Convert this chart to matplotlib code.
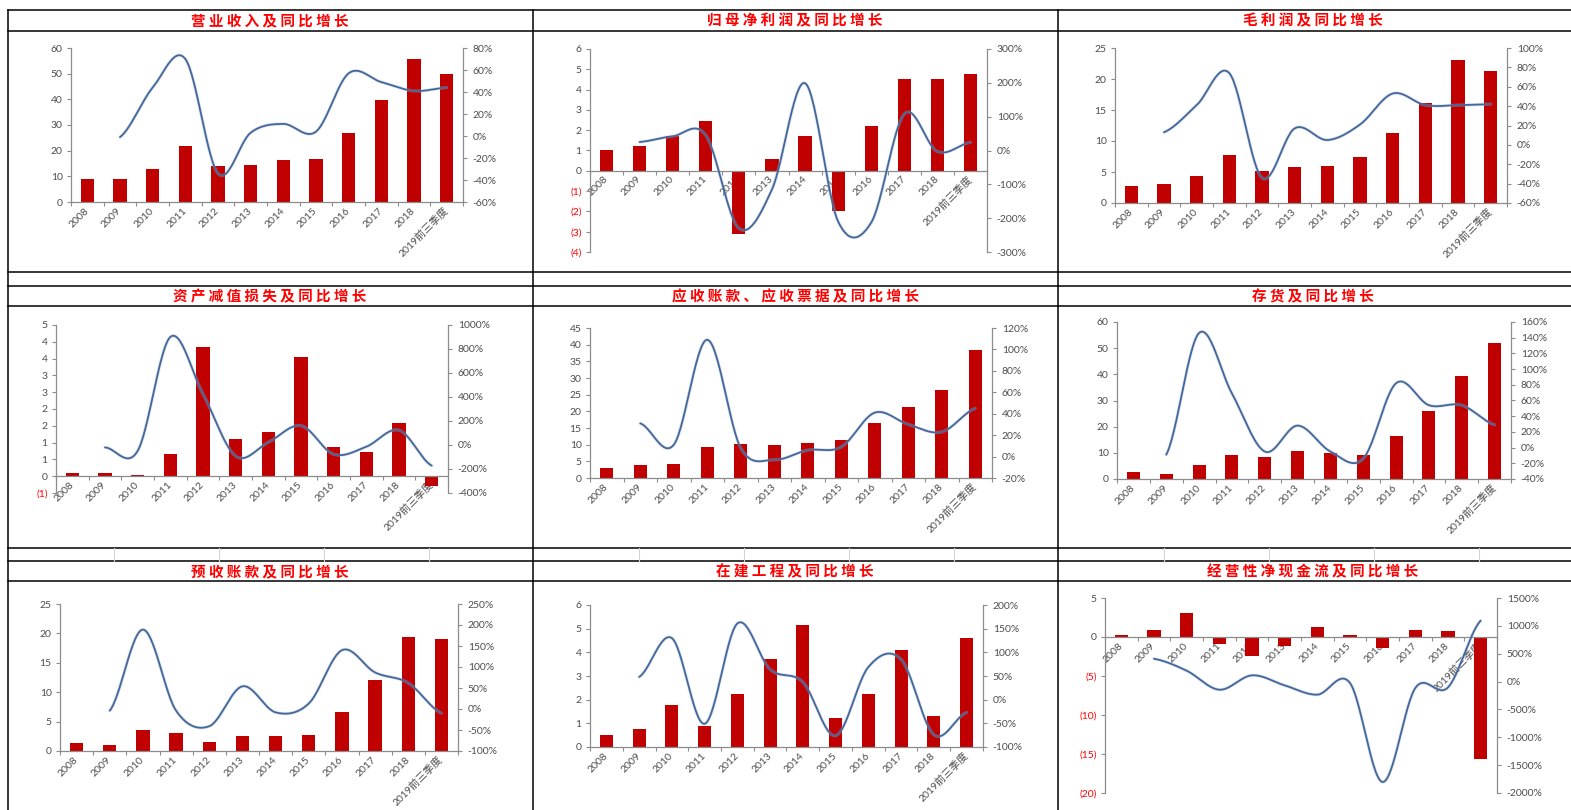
import numpy as np
import matplotlib
matplotlib.use('Agg')
import matplotlib.pyplot as plt
from matplotlib.lines import Line2D

plt.rcParams['font.family'] = ['Lato', 'Noto Sans CJK SC', 'DejaVu Sans']

# ---------------- data ----------------
categories = ['2008', '2009', '2010', '2011', '2012', '2013', '2014', '2015',
              '2016', '2017', '2018', '2019前三季度']

titles = ['营业收入及同比增长', '归母净利润及同比增长', '毛利润及同比增长',
          '资产减值损失及同比增长', '应收账款、应收票据及同比增长', '存货及同比增长',
          '预收账款及同比增长', '在建工程及同比增长', '经营性净现金流及同比增长']

revenue = [9.1, 9.1, 13.0, 21.8, 14.1, 14.6, 16.2, 16.7, 26.7, 39.9, 55.9, 49.9]
revenue_yoy = [-1, 44, 70, -34, 3, 11, 4, 57, 49, 41, 44]

net_profit = [1.0, 1.23, 1.73, 2.43, -3.09, 0.58, 1.73, -1.96, 2.21, 4.53, 4.53, 4.75]
net_profit_yoy = [25, 42, 45, -230, -115, 199, -210, -213, 108, -3, 24]

gross_profit = [2.8, 3.0, 4.4, 7.8, 5.1, 5.8, 6.0, 7.4, 11.3, 16.1, 23.0, 21.3]
gross_profit_yoy = [13, 41, 74, -34, 17, 5, 21, 53, 41, 41, 42]

impairment = [0.10, 0.10, 0.05, 0.67, 3.86, 1.11, 1.32, 3.55, 0.88, 0.72, 1.59, -0.29]
impairment_yoy = [-20, -49, 900, 425, -92, 23, 161, -77, -14, 123, -172]

receivables = [2.9, 3.8, 4.2, 9.3, 10.2, 9.8, 10.6, 11.5, 16.5, 21.2, 26.3, 38.5]
receivables_yoy = [31, 11, 109, 8, -3, 6, 9, 41, 30, 23, 45]

inventory = [2.6, 1.9, 5.2, 9.1, 8.3, 10.6, 10.1, 9.1, 16.6, 25.8, 39.3, 52.0]
inventory_yoy = [-9, 146, 69, -5, 28, -5, -14, 82, 54, 54, 29]

advances = [1.35, 1.06, 3.5, 3.06, 1.53, 2.6, 2.6, 2.8, 6.6, 12.1, 19.4, 19.1]
advances_yoy = [-4, 189, -4, -41, 54, -8, 13, 140, 87, 62, -10]

construction = [0.50, 0.76, 1.79, 0.87, 2.22, 3.72, 5.14, 1.23, 2.22, 4.11, 1.29, 4.60]
construction_yoy = [48, 130, -51, 161, 64, 37, -76, 69, 85, -74, -27]

cashflow = [0.3, 0.94, 3.1, -0.94, -2.4, -1.15, 1.3, 0.26, -1.37, 0.94, 0.77, -15.6]
cashflow_yoy = [410, 195, -146, 112, -68, -235, -26, -1803, -116, -104, 1093]

# axis ranges (left: value, right: percent)
left_ranges = [(0, 60, 10), (-4, 6, 1), (0, 25, 5),
               (-0.5, 4.5, 0.5), (0, 45, 5), (0, 60, 10),
               (0, 25, 5), (0, 6, 1), (-20, 5, 5)]
right_ranges = [(-60, 80, 20), (-300, 300, 100), (-60, 100, 20),
                (-400, 1000, 200), (-20, 120, 20), (-40, 160, 20),
                (-100, 250, 50), (-100, 200, 50), (-2000, 1500, 500)]

# ---------------- layout ----------------
W, H = 1571, 810
fig = plt.figure(figsize=(W / 100, H / 100), dpi=100)

BAR = '#C00000'
LINE = '#44679A'
GRID = '#8C8C8C'
TXT = '#4D4D4D'


def box(l, t, r, b):
    return [l / W, 1 - b / H, (r - l) / W, (b - t) / H]


def hline(y, x0=8, x1=W, color='black', lw=1.1):
    fig.add_artist(Line2D([x0 / W, x1 / W], [1 - y / H, 1 - y / H],
                          color=color, lw=lw, transform=fig.transFigure))


def vline(x, y0, y1, color='black', lw=1.1):
    fig.add_artist(Line2D([x / W, x / W], [1 - y0 / H, 1 - y1 / H],
                          color=color, lw=lw, transform=fig.transFigure))


def smooth(xs, ys, n=30):
    xs = np.asarray(xs, float)
    ys = np.asarray(ys, float)
    k = len(ys)
    m = np.zeros(k)
    for i in range(k):
        a = ys[max(i - 1, 0)]
        b = ys[min(i + 1, k - 1)]
        m[i] = (b - a) / 2.0
    ox, oy = [], []
    for i in range(k - 1):
        t = np.linspace(0, 1, n, endpoint=(i == k - 2))
        h00 = 2 * t**3 - 3 * t**2 + 1
        h10 = t**3 - 2 * t**2 + t
        h01 = -2 * t**3 + 3 * t**2
        h11 = t**3 - t**2
        oy.append(h00 * ys[i] + h10 * m[i] + h01 * ys[i + 1] + h11 * m[i + 1])
        ox.append(xs[i] + t * (xs[i + 1] - xs[i]))
    return np.concatenate(ox), np.concatenate(oy)


def left_label(v):
    r = int(np.floor(abs(v) + 0.5 + 1e-9))
    if v < -1e-9:
        return f'({r})'
    return f'{r}'


def panel(rect, bars, yoy, lr, rr):
    ax = fig.add_axes(box(*rect))
    for s in ['top', 'right']:
        ax.spines[s].set_visible(False)
    ax.spines['bottom'].set_position(('data', 0))
    ax.spines['left'].set_color(GRID)
    ax.spines['bottom'].set_color(GRID)
    ax.spines['left'].set_linewidth(0.9)
    ax.spines['bottom'].set_linewidth(0.9)
    ax.patch.set_alpha(0)

    x = np.arange(len(categories))
    ax.bar(x, bars, width=0.4, color=BAR, zorder=2)
    ax.set_xlim(-0.5, len(categories) - 0.5)
    ax.set_ylim(lr[0], lr[1])
    ticks = np.arange(lr[0], lr[1] + lr[2] / 2, lr[2])
    ax.set_yticks(ticks)
    ax.set_yticklabels([left_label(v) for v in ticks], fontsize=7.5)
    for v, lab in zip(ticks, ax.get_yticklabels()):
        lab.set_color('#FF0000' if v < -1e-9 else TXT)
    ax.tick_params(axis='y', length=3, width=0.8, color=GRID, pad=3)
    ax.set_xticks(x)
    ax.set_xticks(np.arange(-0.5, len(categories)), minor=True)
    ax.set_xticklabels(categories, rotation=45, ha='right', va='center',
                       rotation_mode='anchor', color=TXT, fontsize=7.5)
    ax.tick_params(axis='x', which='major', length=0, pad=5)
    ax.tick_params(axis='x', which='minor', length=3, width=0.8, color=GRID)

    ax2 = ax.twinx()
    for s in ['top', 'left', 'bottom']:
        ax2.spines[s].set_visible(False)
    ax2.spines['right'].set_color(GRID)
    ax2.spines['right'].set_linewidth(0.9)
    sx, sy = smooth(x[1:], yoy)
    ax2.plot(sx, sy, color='#9FB3CF', lw=2.4, alpha=0.35, solid_capstyle='round')
    ax2.plot(sx, sy, color=LINE, lw=1.3, solid_capstyle='round')
    ax2.set_ylim(rr[0], rr[1])
    rt = np.arange(rr[0], rr[1] + rr[2] / 2, rr[2])
    ax2.set_yticks(rt)
    ax2.set_yticklabels([f'{int(v)}%' for v in rt], color=TXT, fontsize=7.5)
    ax2.tick_params(axis='y', length=3, width=0.8, color=GRID, pad=4)
    return ax, ax2


# ---------------- sheet grid lines ----------------
for y in [10, 31, 272, 286, 306, 548, 561, 581]:
    hline(y)
for xv in [8, 533, 1058]:
    vline(xv, 10, H)
for k in range(14):
    xs = 114 + 105 * k
    if abs(xs - 533) > 4 and abs(xs - 1058) > 4:
        vline(xs, 548, 561, color='#D4D4D4', lw=0.8)

# ---------------- titles ----------------
title_x = [270, 795, 1313]
title_y = [20, 296, 571]
for i, t in enumerate(titles):
    fig.text(title_x[i % 3] / W, 1 - title_y[i // 3] / H, ' '.join(t),
             ha='center', va='center', color='#FF0000', fontsize=10.5,
             fontweight='bold', family=['Noto Sans CJK SC', 'DejaVu Sans'])

# ---------------- panels ----------------
rects = [(71, 48, 463, 202), (590, 49, 987, 252), (1115, 48, 1507, 203),
         (56, 325, 448, 493), (590, 328, 992, 478), (1117, 322, 1511, 479),
         (60, 604, 458, 751), (590, 605, 983, 747), (1105, 598, 1497, 793)]
bars_all = [revenue, net_profit, gross_profit, impairment, receivables,
            inventory, advances, construction, cashflow]
yoy_all = [revenue_yoy, net_profit_yoy, gross_profit_yoy, impairment_yoy,
           receivables_yoy, inventory_yoy, advances_yoy, construction_yoy,
           cashflow_yoy]

for i in range(9):
    panel(rects[i], bars_all[i], yoy_all[i], left_ranges[i], right_ranges[i])

fig.savefig('out.png', dpi=100)
